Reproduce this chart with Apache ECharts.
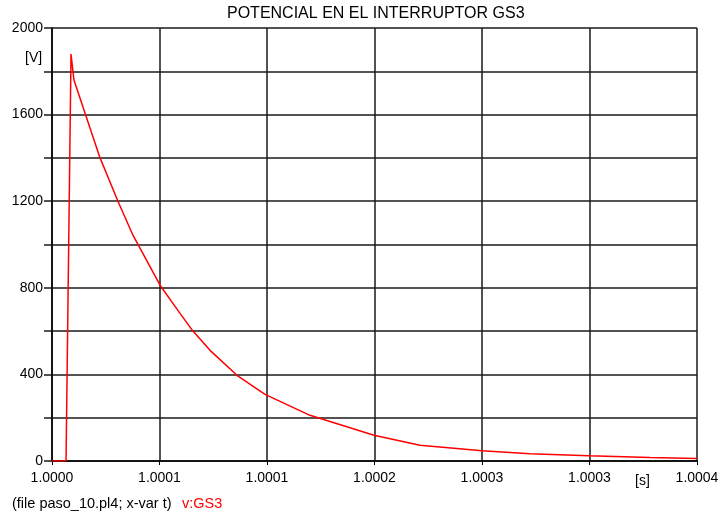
<!DOCTYPE html>
<html><head><meta charset="utf-8">
<script src="https://cdn.jsdelivr.net/npm/echarts@6/dist/echarts.min.js"></script>
<style>html,body{margin:0;padding:0;background:#fff}#c{width:723px;height:519px}</style>
</head><body><div id="c"></div>
<script>
// time offsets after t = 1.0000 s, in microseconds
var timeUs = [0, 8.7, 11.8, 13.6, 29.8, 40.9, 50.2, 67.0, 79.4, 87.4, 98.0, 114.7, 132.1, 160.0, 199.7, 228.2, 266.7, 296.4, 333.0, 370.9, 400.0];
var voltage = [0, 0, 1880, 1760, 1400, 1200, 1043, 812, 682, 600, 511, 396, 308, 211, 119, 73, 47, 34, 24, 16, 12];
var xTickLabels = ['1.0000', '1.0001', '1.0001', '1.0002', '1.0003', '1.0003', '1.0004'];
var yTickLabels = ['0', '400', '800', '1200', '1600', '2000'];
var titleText = 'POTENCIAL EN EL INTERRUPTOR GS3';

var FONT = '"Liberation Sans", Arial, sans-serif';
var chart = echarts.init(document.getElementById('c'));
var xInterval = 400 / 6;
chart.setOption({
  animation: false,
  backgroundColor: '#fff',
  title: {text: titleText, left: 227, top: 6, padding: 0,
    textStyle: {fontFamily: FONT, fontSize: 16, fontWeight: 'normal', color: '#000'}},
  grid: {left: 52, right: 26, top: 28, bottom: 58},
  xAxis: {type: 'value', min: 0, max: 400, interval: xInterval,
    axisLine: {show: true, lineStyle: {color: '#000', width: 1.5}},
    axisTick: {show: true, length: 4, lineStyle: {color: '#000'}},
    splitLine: {show: true, lineStyle: {color: '#1a1a1a', width: 1.5}},
    axisLabel: {fontFamily: FONT, fontSize: 14, color: '#000', margin: 10,
      formatter: function (v) { var i = Math.round(v / xInterval); return xTickLabels[i] || ''; }}
  },
  yAxis: {type: 'value', min: 0, max: 2000, interval: 200,
    axisLine: {show: true, lineStyle: {color: '#000', width: 1.5}},
    axisTick: {show: true, length: 8, lineStyle: {color: '#1a1a1a', width: 1.5}},
    splitLine: {show: true, lineStyle: {color: '#1a1a1a', width: 1.5}},
    axisLabel: {fontFamily: FONT, fontSize: 14, color: '#000', margin: 9,
      formatter: function (v) { return (v % 400 === 0) ? yTickLabels[v / 400] : ''; }}
  },
  graphic: [
    {type: 'text', left: 25, top: 51, style: {text: '[V]', font: '14px ' + FONT, fill: '#000'}},
    {type: 'text', left: 635, top: 474, style: {text: '[s]', font: '14px ' + FONT, fill: '#000'}},
    {type: 'text', left: 12, top: 496, style: {text: '(file paso_10.pl4; x-var t)', font: '14.5px ' + FONT, fill: '#000'}},
    {type: 'text', left: 182, top: 496, style: {text: 'v:GS3', font: '14.5px ' + FONT, fill: '#f00'}}
  ],
  series: [{type: 'line', data: timeUs.map(function (t, i) { return [t, voltage[i]]; }),
    showSymbol: false, lineStyle: {color: '#f00', width: 1.5}, itemStyle: {color: '#f00'}}]
});
</script></body></html>
